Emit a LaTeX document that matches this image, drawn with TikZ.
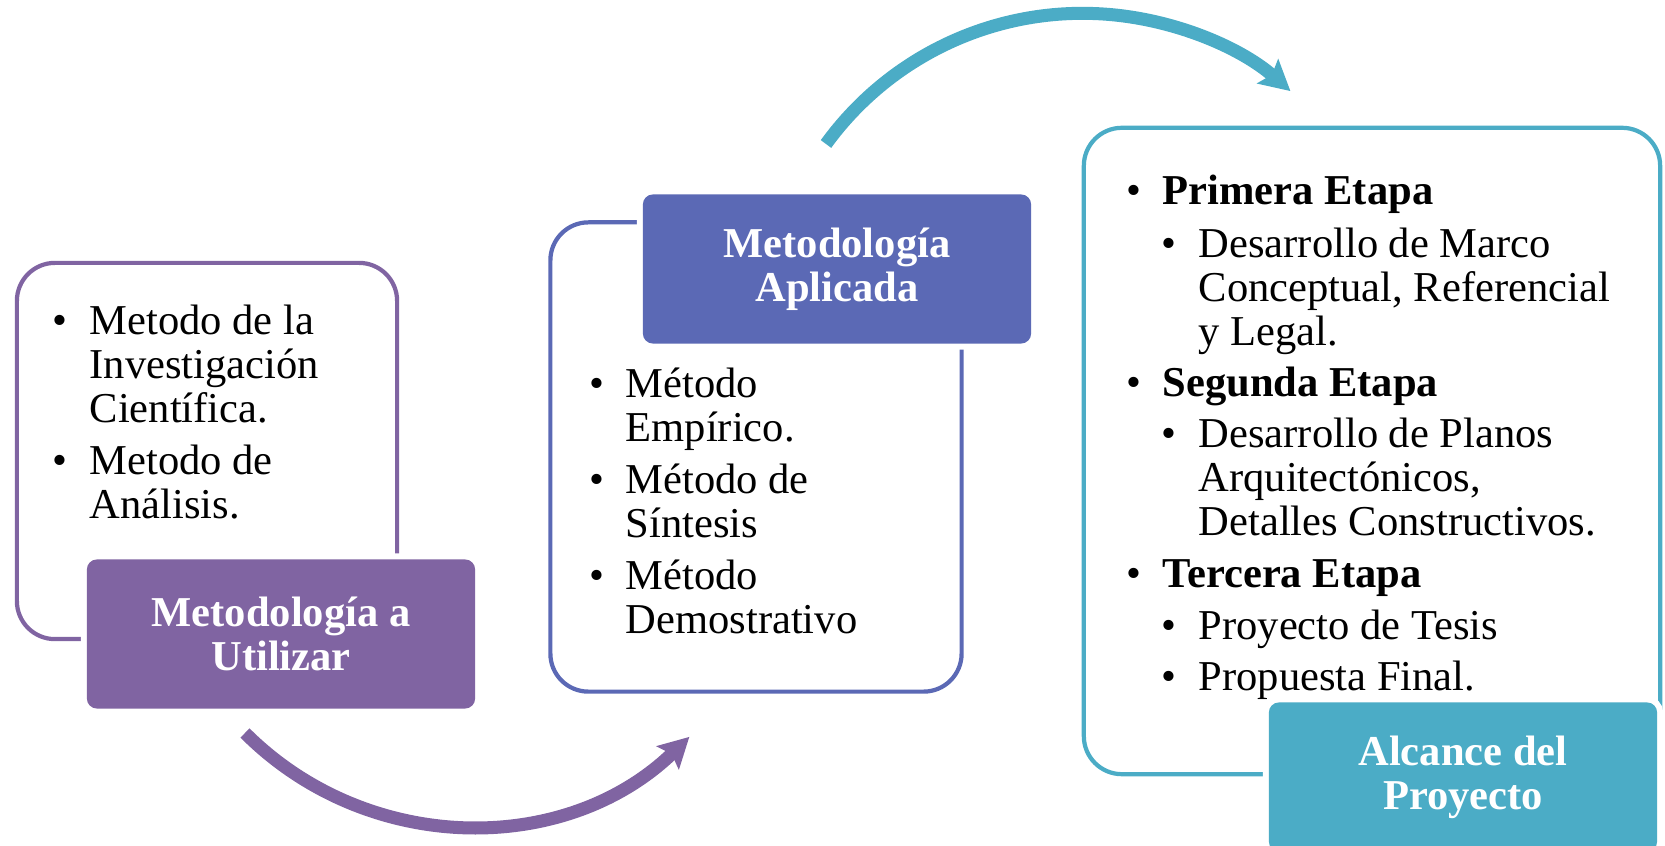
\documentclass[tikz,border=0pt]{standalone}
\usepackage{fontspec}
\setmainfont{Liberation Serif}
\usetikzlibrary{arrows.meta}

\definecolor{morado}{HTML}{8064A2}
\definecolor{azul}{HTML}{5B69B5}
\definecolor{celeste}{HTML}{4BACC6}

\begin{document}
\fontsize{12.1}{12.5}\selectfont
\begin{tikzpicture}[x=0.01cm,y=-0.01cm,
	marco/.style={draw=#1,line width=1.2pt,rounded corners=0.38cm,inner sep=0pt},
	titulo/.style={fill=#1,preaction={draw=white,line width=3.4pt},rounded corners=0.1cm,
		minimum width=3.88cm,minimum height=1.49cm,inner sep=0pt,text=white,font=\bfseries,align=center},
	flecha/.style={draw=#1,line width=3.7pt,-{Stealth[length=8.5pt,width=9pt,inset=1.5pt]}}]
	\tikzstyle{linea}=[anchor=base west,inner sep=0pt]
	\tikzstyle{punto}=[anchor=base,inner sep=0pt]
	\useasboundingbox (0,0) rectangle (1665,846);

	% Metodologia a utilizar
	\node[marco=morado,minimum width=3.8cm,minimum height=3.76cm] (m1) at (207,451) {};
	\node[titulo=morado] (t1) at (281,634) {Metodología a\\Utilizar};
	\foreach \y/\s [count=\i] in {335/Metodo de la,379/Investigación,423/Científica.,475/Metodo de,519/Análisis.}
		\node[linea] (l1-\i) at (89,\y) {\s};
	\foreach \y in {335,475}
		\node[punto] (p1-\y) at (60,\y) {\textbullet};

	% Metodologia aplicada
	\node[marco=azul,minimum width=4.11cm,minimum height=4.69cm] (m2) at (756,457) {};
	\node[titulo=azul] (t2) at (837,269) {Metodología\\Aplicada};
	\foreach \y/\s [count=\i] in {398/Método,442/Empírico.,494/Método de,538/Síntesis,590/Método,634/Demostrativo}
		\node[linea] (l2-\i) at (625,\y) {\s};
	\foreach \y in {398,494,590}
		\node[punto] (p2-\y) at (597,\y) {\textbullet};

	% Alcance del proyecto
	\node[marco=celeste,minimum width=5.76cm,minimum height=6.46cm] (m3) at (1372,451) {};
	\node[titulo=celeste] (t3) at (1463,777) {Alcance del\\Proyecto};
	\foreach \x/\y/\s [count=\i] in {1162/205/\textbf{Primera Etapa},1198/258/Desarrollo de Marco,
		{1198/302/Conceptual, Referencial},1198/346/y Legal.,1162/397/\textbf{Segunda Etapa},
		1198/448/Desarrollo de Planos,{1198/492/Arquitectónicos,},1198/536/Detalles Constructivos.,
		1162/588/\textbf{Tercera Etapa},1198/640/Proyecto de Tesis,1198/691/Propuesta Final.}
		\node[linea] (l3-\i) at (\x,\y) {\s};
	\foreach \x/\y in {1134/205,1169/258,1134/397,1169/448,1134/588,1169/640,1169/691}
		\node[punto] (p3-\y) at (\x,\y) {\textbullet};

	% flechas
	\coordinate (f1) at (245,733);
	\coordinate (f2) at (826,144);
	\draw[flecha=morado] (f1) arc[start angle=135,end angle=46,radius=317];
	\draw[flecha=celeste] (f2) arc[start angle=-144,end angle=-49,radius=317];
\end{tikzpicture}
\end{document}
